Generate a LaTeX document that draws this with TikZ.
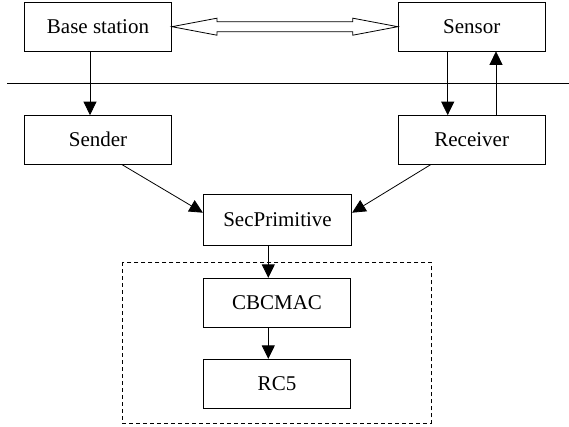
\documentclass[tikz,border=0pt]{standalone}
\usepackage{fontspec}
\setmainfont{Liberation Serif}
\usetikzlibrary{arrows.meta,calc}
\begin{document}
\begin{tikzpicture}[x=1pt,y=-1pt,
  box/.style={draw,line width=0.8pt,minimum width=147pt,minimum height=48.5pt,inner sep=0pt,
    font=\fontsize{21}{25}\selectfont},
  conn/.style={line width=0.8pt,-{Triangle[length=13.5pt,width=13pt]}},
  plain/.style={line width=0.8pt}]
\useasboundingbox (0,0) rectangle (569,427);
\node[box] (base) at (98,26.7) {Base station};
\node[box] (sensor) at (471.7,26.7) {Sensor};
\node[box] (sender) at (98,139.8) {Sender};
\node[box] (receiver) at (471.7,139.8) {Receiver};
\node[box,minimum width=148.4pt,minimum height=50.3pt] (sec) at (277.5,219.9) {SecPrimitive};
\node[box,minimum height=49pt] (cbc) at (277,302.8) {CBCMAC};
\node[box,minimum height=49pt] (rc5) at (277,383.8) {RC5};
\coordinate (lineL) at (7.3,83.3);
\coordinate (lineR) at (569,83.3);
\draw[plain] (lineL) -- (lineR);
\draw[plain,dash pattern=on 4pt off 3pt] (122.3,262) rectangle (431,423.3);
% double arrow
\draw[plain] (base.east) -- ++(45,-8.5) -- ++(0,3.5) -- ($(sensor.west)+(-45,-5)$) -- ++(0,-3.5)
  -- (sensor.west) -- ++(-45,8.5) -- ++(0,-3.5) -- ($(base.east)+(45,5)$) -- ++(0,3.5) -- cycle;
\draw[conn] ([xshift=-8pt]base.south) -- ([xshift=-8pt]sender.north);
\draw[conn] ([xshift=-24pt]sensor.south) -- ([xshift=-24pt]receiver.north);
\draw[conn] ([xshift=24.3pt]receiver.north) -- ([xshift=24.3pt]sensor.south);
\draw[conn] ([xshift=23.7pt]sender.south) -- ([yshift=7.2pt]sec.west);
\draw[conn] ([xshift=-40.7pt]receiver.south) -- ([yshift=7.2pt]sec.east);
\draw[conn] ([xshift=-9.2pt]sec.south) -- ([xshift=-8.7pt]cbc.north);
\draw[conn] ([xshift=-8.7pt]cbc.south) -- ([xshift=-8.7pt]rc5.north);
\end{tikzpicture}
\end{document}
